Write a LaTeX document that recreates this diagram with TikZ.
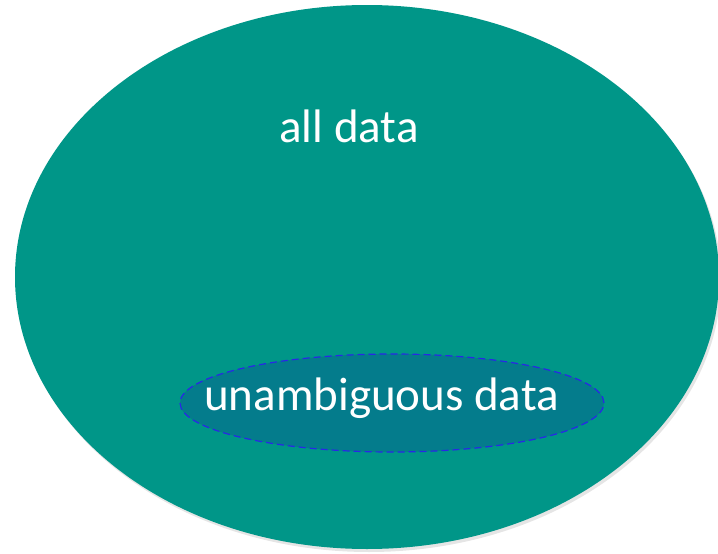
\documentclass[tikz,border=0pt]{standalone}
\usepackage{fontspec}
\setmainfont{Carlito}
\usetikzlibrary{shapes.geometric}
\definecolor{bigteal}{RGB}{0,150,136}
\definecolor{smallteal}{RGB}{4,124,140}
\definecolor{dashblue}{RGB}{40,40,230}
\tikzset{
  lbl/.style={text=white, anchor=base, inner sep=0pt, font=\fontsize{47}{52}\selectfont},
}
\begin{document}
\begin{tikzpicture}[x=1pt,y=-1pt]
\useasboundingbox (0,0) rectangle (718,554);
\fill[black!20, opacity=0.5] (369,280) ellipse [x radius=352, y radius=272];
\fill[bigteal] (367,277) ellipse [x radius=352, y radius=272];
\node[ellipse, fill=smallteal, draw=dashblue, dash pattern=on 7pt off 4pt, line width=1.2pt,
      minimum width=424pt, minimum height=98pt, inner sep=0pt] (small) at (392,403) {};
\node[lbl] (all) at (349,142.3) {all data};
\node[lbl] (unamb) at (381.5,410) {unambiguous data};
\end{tikzpicture}
\end{document}
